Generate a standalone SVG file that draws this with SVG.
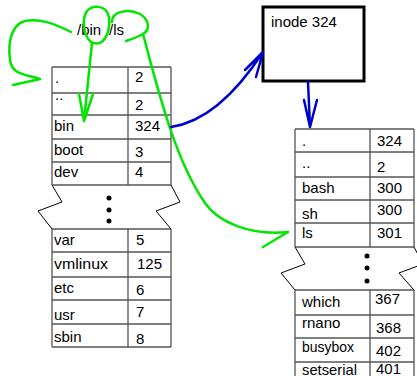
<svg xmlns="http://www.w3.org/2000/svg" width="417" height="376" viewBox="0 0 417 376">
<style>
text{font-family:"Liberation Sans",Arial,sans-serif;font-size:15px;fill:#000}
.h{stroke:#000;stroke-width:1;fill:none}
.v{stroke:#555;stroke-width:1.3;fill:none}
.z{stroke:#000;stroke-width:1;fill:none}
.g{stroke:#00e600;stroke-width:2.5;fill:none;stroke-linecap:round;stroke-linejoin:round}
.b{stroke:#0000cc;stroke-width:2.5;fill:none;stroke-linecap:round;stroke-linejoin:round}
</style>
<rect width="417" height="376" fill="#fff"/>

<g id="root-dir">
  <path class="h" d="M52,67H171M52,93H171M52,115H171M52,139H171M52,162H171M52,185H171"/>
  <path class="v" d="M52,67V185M128,67V185M171,67V185"/>
  <path class="z" d="M52,185L62,202L38,211L52,229M171,185L180,202L156,211L171,229"/>
  <circle cx="109" cy="198" r="2.5"/><circle cx="109" cy="210" r="2.5"/><circle cx="109" cy="221" r="2.5"/>
  <path class="h" d="M52,229H171M52,252H171M52,277H171M52,300H171M52,324H171M52,347H171"/>
  <path class="v" d="M52,229V347M128,229V347M171,229V347"/>
  <text x="55" y="83">.</text><text x="135" y="82">2</text>
  <text x="55" y="100">..</text><text x="135" y="110">2</text>
  <text x="54" y="131">bin</text><text x="135" y="131">324</text>
  <text x="54" y="155">boot</text><text x="135" y="157">3</text>
  <text x="54" y="177">dev</text><text x="135" y="177">4</text>
  <text x="54" y="245">var</text><text x="136" y="245">5</text>
  <text x="54" y="269" textLength="54" lengthAdjust="spacingAndGlyphs">vmlinux</text><text x="137" y="269">125</text>
  <text x="54" y="293">etc</text><text x="136" y="295">6</text>
  <text x="54" y="320">usr</text><text x="136" y="317">7</text>
  <text x="54" y="342">sbin</text><text x="136" y="344">8</text>
</g>

<g id="path-label">
  <text x="77" y="35">/bin</text>
  <text x="109" y="35">/ls</text>
</g>

<g id="inode324">
  <rect x="263" y="7" width="101" height="74" fill="#fff" stroke="#000" stroke-width="3"/>
  <text x="271" y="27">inode 324</text>
</g>

<g id="bin-dir">
  <path class="h" d="M295,129H414M295,152H414M295,177H414M295,200H414M295,223H414M295,247H414"/>
  <path class="v" d="M295,129V247M370,129V247M414,129V247"/>
  <path class="z" d="M295,247L305,264L281,273L295,290M414,247L423,264L399,273L414,290"/>
  <circle cx="367" cy="256" r="2.5"/><circle cx="367" cy="268" r="2.5"/><circle cx="367" cy="281" r="2.5"/>
  <path class="h" d="M295,290H414M295,315H414M295,338H414M295,362H414"/>
  <path class="v" d="M295,290V380M370,290V380M414,290V380"/>
  <text x="302" y="146">.</text><text x="377" y="146">324</text>
  <text x="302" y="168">..</text><text x="377" y="172">2</text>
  <text x="302" y="193">bash</text><text x="377" y="193">300</text>
  <text x="302" y="219">sh</text><text x="377" y="215">300</text>
  <text x="302" y="238">ls</text><text x="377" y="238">301</text>
  <text x="302" y="307">which</text><text x="375" y="304">367</text>
  <text x="302" y="328">rnano</text><text x="376" y="333">368</text>
  <text x="302" y="352" textLength="52" lengthAdjust="spacingAndGlyphs">busybox</text><text x="376" y="356">402</text>
  <text x="302" y="375" textLength="55" lengthAdjust="spacingAndGlyphs">setserial</text><text x="376" y="374">401</text>
</g>

<g id="connectors">
  <path class="g" d="M71,32C55,24 40,18 25,21C10,25 8,45 10,60C12,75 25,74 40,79M13,85L40,79"/>
  <path class="g" d="M91,42C84,36 81,20 87,11C93,4 105,6 108,14C111,22 109,38 100,43C96,44 93,43 91,42"/>
  <path class="g" d="M92,43L84,121M79,94L84,121L93,94"/>
  <path class="g" d="M112,22C112,10 130,9 140,14C150,20 150,30 143,34C138,37 132,39 126,41"/>
  <path class="g" d="M143,34C158,90 175,160 205,203C218,222 250,236 288,232M263,247L288,232"/>
  <path class="b" d="M171,127C205,122 235,95 263,52M245,70L263,52L256,77"/>
  <path class="b" d="M308,82L310,127M304,100L310,127L317,100"/>
</g>
</svg>
